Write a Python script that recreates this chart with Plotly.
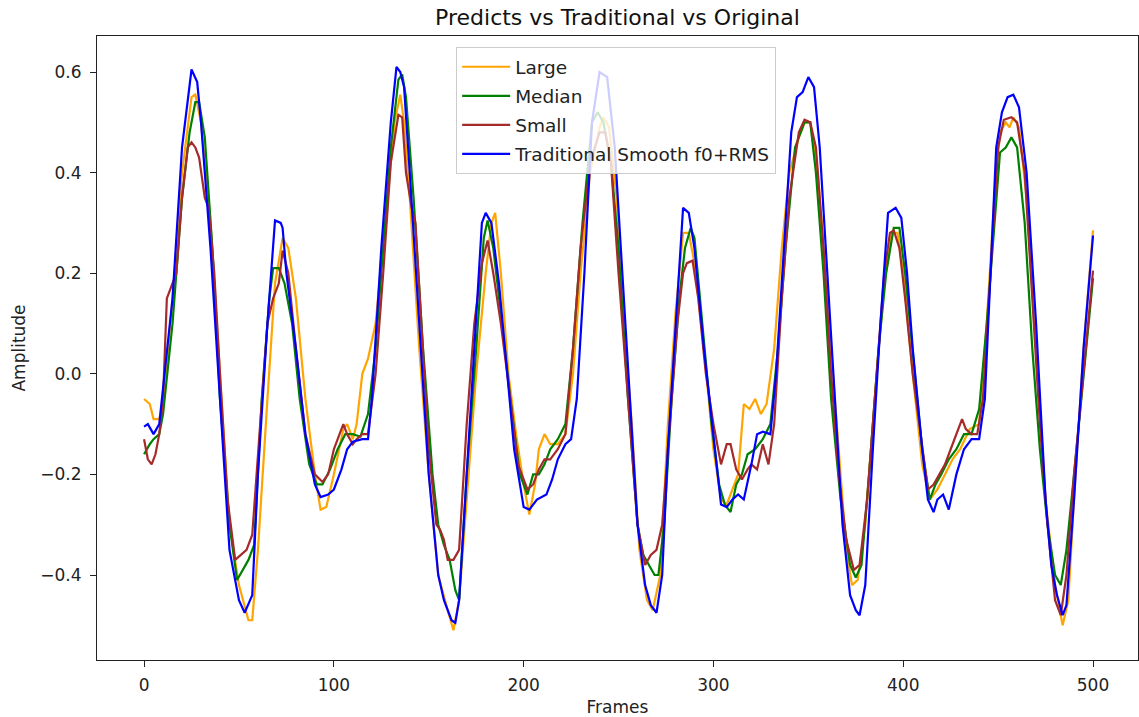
import plotly.graph_objects as go

# ---- data (frame, amplitude) ----
large_x = [0, 3, 5, 8, 10, 15, 20, 25, 27, 30, 35, 40, 45, 50, 55, 57, 60, 65, 69, 73, 76, 80, 85, 90, 93, 96, 100, 105, 107, 110, 112, 115, 118, 122, 127, 132, 135, 137, 140, 145, 150, 155, 160, 163, 166, 170, 175, 180, 183, 185, 188, 192, 196, 200, 203, 206, 208, 211, 214, 218, 222, 226, 230, 235, 240, 242, 245, 249, 253, 257, 261, 265, 268, 272, 276, 280, 284, 287, 290, 295, 300, 304, 307, 310, 313, 316, 319, 322, 325, 328, 332, 336, 340, 345, 348, 351, 355, 360, 365, 370, 373, 376, 380, 385, 390, 394, 397, 400, 405, 410, 414, 418, 422, 426, 430, 435, 440, 444, 448, 451, 454, 456, 458, 461, 465, 470, 475, 480, 484, 487, 490, 495, 500]
large_y = [-0.05, -0.06, -0.09, -0.09, -0.06, 0.15, 0.40, 0.55, 0.555, 0.50, 0.30, 0.00, -0.30, -0.42, -0.49, -0.49, -0.35, -0.05, 0.18, 0.27, 0.25, 0.15, -0.05, -0.20, -0.27, -0.265, -0.20, -0.11, -0.10, -0.13, -0.10, 0.00, 0.03, 0.10, 0.30, 0.50, 0.555, 0.50, 0.35, 0.05, -0.20, -0.40, -0.47, -0.51, -0.45, -0.25, 0.00, 0.20, 0.30, 0.32, 0.20, 0.00, -0.12, -0.22, -0.28, -0.22, -0.15, -0.12, -0.14, -0.14, -0.12, 0.00, 0.20, 0.40, 0.49, 0.51, 0.49, 0.35, 0.10, -0.10, -0.35, -0.45, -0.47, -0.40, -0.10, 0.12, 0.28, 0.28, 0.22, 0.05, -0.15, -0.25, -0.26, -0.23, -0.20, -0.06, -0.07, -0.05, -0.08, -0.06, 0.05, 0.25, 0.40, 0.47, 0.50, 0.50, 0.40, 0.15, -0.10, -0.35, -0.42, -0.41, -0.30, -0.05, 0.18, 0.28, 0.28, 0.20, 0.00, -0.18, -0.25, -0.23, -0.20, -0.17, -0.15, -0.11, -0.10, 0.10, 0.35, 0.48, 0.50, 0.49, 0.51, 0.49, 0.35, 0.05, -0.25, -0.42, -0.50, -0.45, -0.25, 0.05, 0.285]

median_x = [0, 3, 5, 8, 10, 15, 20, 24, 27, 29, 32, 36, 40, 45, 49, 52, 55, 58, 62, 66, 68, 71, 74, 78, 82, 87, 91, 94, 98, 102, 106, 110, 114, 118, 122, 126, 130, 134, 136, 138, 142, 147, 152, 155, 158, 161, 164, 166, 170, 175, 179, 181, 184, 188, 193, 198, 202, 205, 208, 211, 214, 218, 222, 226, 231, 236, 239, 242, 246, 250, 255, 260, 263, 266, 269, 271, 274, 278, 282, 285, 288, 290, 294, 299, 303, 306, 309, 312, 315, 318, 322, 326, 330, 334, 338, 343, 348, 351, 354, 358, 362, 367, 372, 375, 378, 382, 387, 391, 395, 398, 401, 405, 410, 414, 417, 420, 424, 428, 432, 436, 440, 444, 448, 451, 454, 457, 460, 464, 468, 472, 476, 480, 483, 486, 490, 495, 500]
median_y = [-0.16, -0.14, -0.13, -0.12, -0.08, 0.10, 0.35, 0.48, 0.54, 0.54, 0.47, 0.25, -0.05, -0.30, -0.41, -0.39, -0.37, -0.34, -0.05, 0.15, 0.21, 0.21, 0.18, 0.10, -0.05, -0.18, -0.22, -0.22, -0.19, -0.15, -0.12, -0.12, -0.125, -0.08, 0.05, 0.25, 0.45, 0.585, 0.595, 0.55, 0.35, 0.05, -0.20, -0.30, -0.34, -0.37, -0.43, -0.45, -0.20, 0.05, 0.27, 0.305, 0.25, 0.12, -0.05, -0.20, -0.24, -0.20, -0.20, -0.18, -0.15, -0.13, -0.10, 0.05, 0.30, 0.50, 0.52, 0.50, 0.42, 0.25, -0.05, -0.30, -0.36, -0.38, -0.40, -0.40, -0.30, -0.05, 0.15, 0.25, 0.29, 0.27, 0.10, -0.10, -0.22, -0.26, -0.275, -0.22, -0.20, -0.16, -0.15, -0.13, -0.10, 0.05, 0.25, 0.45, 0.50, 0.50, 0.40, 0.20, -0.05, -0.25, -0.38, -0.405, -0.38, -0.20, 0.05, 0.20, 0.29, 0.29, 0.20, 0.05, -0.15, -0.25, -0.22, -0.20, -0.17, -0.15, -0.12, -0.12, -0.07, 0.10, 0.30, 0.44, 0.45, 0.47, 0.45, 0.30, 0.05, -0.15, -0.30, -0.40, -0.42, -0.35, -0.20, 0.00, 0.19]

small_x = [0, 2, 4, 6, 8, 10, 12, 14, 17, 20, 23, 25, 27, 29, 32, 34, 37, 40, 44, 48, 51, 54, 57, 61, 65, 68, 71, 73, 76, 80, 85, 90, 94, 97, 100, 103, 105, 107, 110, 112, 115, 118, 122, 126, 130, 134, 136, 138, 141, 143, 146, 150, 154, 156, 158, 160, 163, 166, 170, 174, 178, 181, 184, 188, 193, 197, 202, 205, 208, 211, 214, 218, 222, 226, 230, 235, 240, 243, 246, 250, 255, 260, 264, 267, 270, 273, 277, 281, 284, 286, 289, 292, 296, 300, 304, 307, 309, 312, 315, 318, 320, 323, 326, 329, 332, 336, 340, 345, 348, 351, 354, 358, 362, 366, 370, 374, 377, 381, 386, 390, 393, 395, 398, 401, 405, 410, 413, 416, 419, 422, 425, 428, 431, 433, 436, 439, 442, 446, 450, 453, 457, 460, 464, 468, 472, 476, 480, 483, 486, 490, 495, 500]
small_y = [-0.13, -0.17, -0.18, -0.16, -0.12, -0.05, 0.15, 0.17, 0.20, 0.35, 0.45, 0.46, 0.45, 0.43, 0.35, 0.33, 0.20, 0.00, -0.25, -0.37, -0.36, -0.35, -0.32, -0.10, 0.10, 0.15, 0.18, 0.245, 0.20, 0.05, -0.12, -0.20, -0.215, -0.20, -0.15, -0.12, -0.10, -0.12, -0.14, -0.13, -0.12, -0.12, 0.00, 0.20, 0.42, 0.515, 0.51, 0.40, 0.33, 0.30, 0.10, -0.15, -0.30, -0.31, -0.33, -0.37, -0.37, -0.35, -0.10, 0.10, 0.22, 0.265, 0.20, 0.10, -0.05, -0.18, -0.23, -0.22, -0.19, -0.17, -0.17, -0.15, -0.12, 0.05, 0.25, 0.42, 0.48, 0.48, 0.42, 0.20, -0.05, -0.30, -0.38, -0.36, -0.35, -0.30, -0.10, 0.10, 0.20, 0.22, 0.225, 0.15, 0.00, -0.10, -0.18, -0.14, -0.14, -0.19, -0.21, -0.19, -0.18, -0.19, -0.14, -0.18, -0.10, 0.15, 0.35, 0.48, 0.505, 0.50, 0.45, 0.25, 0.00, -0.20, -0.33, -0.39, -0.38, -0.25, 0.00, 0.20, 0.28, 0.285, 0.25, 0.15, 0.00, -0.15, -0.23, -0.22, -0.20, -0.18, -0.15, -0.12, -0.09, -0.11, -0.12, -0.12, -0.05, 0.20, 0.45, 0.505, 0.51, 0.50, 0.40, 0.15, -0.10, -0.30, -0.45, -0.48, -0.40, -0.20, 0.00, 0.205]

trad_x = [0, 2, 5, 8, 15, 20, 25, 28, 30, 35, 40, 45, 50, 53, 57, 60, 65, 69, 72, 73, 75, 80, 85, 90, 93, 97, 100, 104, 107, 110, 115, 118, 120, 125, 130, 133, 135, 137, 140, 145, 150, 155, 158, 162, 164, 166, 170, 175, 178, 180, 183, 187, 190, 195, 200, 203, 207, 212, 215, 218, 222, 225, 228, 232, 236, 240, 244, 248, 252, 256, 260, 264, 267, 270, 273, 276, 280, 284, 287, 290, 295, 300, 304, 307, 310, 313, 316, 320, 323, 326, 330, 333, 337, 341, 344, 347, 350, 353, 356, 360, 365, 368, 372, 375, 377, 380, 384, 388, 392, 396, 399, 402, 405, 410, 413, 416, 418, 421, 424, 428, 432, 436, 440, 443, 446, 449, 452, 455, 458, 461, 465, 470, 475, 478, 481, 484, 486, 490, 495, 500]
trad_y = [-0.105, -0.10, -0.12, -0.10, 0.15, 0.45, 0.605, 0.58, 0.50, 0.25, -0.05, -0.35, -0.45, -0.475, -0.44, -0.20, 0.10, 0.305, 0.30, 0.29, 0.20, 0.05, -0.12, -0.22, -0.245, -0.24, -0.23, -0.19, -0.15, -0.135, -0.13, -0.13, -0.05, 0.25, 0.50, 0.61, 0.60, 0.57, 0.40, 0.10, -0.20, -0.40, -0.45, -0.49, -0.495, -0.45, -0.20, 0.10, 0.30, 0.32, 0.30, 0.18, 0.05, -0.15, -0.265, -0.27, -0.25, -0.24, -0.21, -0.17, -0.14, -0.13, -0.05, 0.20, 0.50, 0.60, 0.59, 0.45, 0.20, -0.05, -0.30, -0.42, -0.46, -0.475, -0.40, -0.15, 0.10, 0.33, 0.32, 0.25, 0.05, -0.13, -0.26, -0.265, -0.25, -0.24, -0.25, -0.18, -0.12, -0.115, -0.12, 0.00, 0.25, 0.48, 0.55, 0.56, 0.59, 0.57, 0.45, 0.20, -0.10, -0.30, -0.44, -0.47, -0.48, -0.42, -0.15, 0.10, 0.32, 0.33, 0.31, 0.20, 0.05, -0.15, -0.25, -0.275, -0.25, -0.24, -0.27, -0.20, -0.15, -0.13, -0.13, -0.05, 0.20, 0.45, 0.52, 0.55, 0.555, 0.53, 0.40, 0.10, -0.25, -0.38, -0.44, -0.48, -0.46, -0.25, 0.05, 0.275]

series_names = ["Large", "Median", "Small", "Traditional Smooth f0+RMS"]
series_colors = ["orange", "green", "brown", "blue"]
x_ticks = [0, 100, 200, 300, 400, 500]
y_ticks = [-0.4, -0.2, 0.0, 0.2, 0.4, 0.6]
y_tick_labels = ["\u22120.4", "\u22120.2", "0.0", "0.2", "0.4", "0.6"]

FONT = "DejaVu Sans"

fig = go.Figure()
for i, (name, xs, ys, col) in enumerate(zip(
        series_names,
        [large_x, median_x, small_x, trad_x],
        [large_y, median_y, small_y, trad_y],
        series_colors)):
    fig.add_trace(go.Scatter(x=xs, y=ys, mode="lines", name=name,
                             legendgroup=f"g{i}",
                             line=dict(color=col, width=2.2)))

axis_common = dict(showgrid=False, zeroline=False, showline=True, linecolor="#222",
                   linewidth=1.2, mirror=True, ticks="outside", ticklen=6,
                   tickcolor="#222", tickfont=dict(family=FONT, size=17, color="#222"))

fig.update_layout(
    width=1139, height=717,
    margin=dict(l=97, r=1, t=36, b=57),
    paper_bgcolor="white", plot_bgcolor="white",
    font=dict(family=FONT, color="#222"),
    title=dict(text="Predicts vs Traditional vs Original", x=0.5, xref="paper",
               xanchor="center", y=1 - 17 / 717, yanchor="middle",
               font=dict(family=FONT, size=22, color="#111")),
    xaxis=dict(range=[-24.8, 523.7], tickvals=x_ticks, ticklabelstandoff=3,
               title=dict(text="Frames", font=dict(family=FONT, size=17), standoff=8),
               **axis_common),
    yaxis=dict(range=[-0.569, 0.6716], tickvals=y_ticks, ticktext=y_tick_labels,
               ticklabelstandoff=5,
               title=dict(text="Amplitude", font=dict(family=FONT, size=17), standoff=10),
               **axis_common),
    legend=dict(x=0.345, y=0.982, xanchor="left", yanchor="top",
                bgcolor="rgba(255,255,255,0.8)", bordercolor="#cccccc", borderwidth=1,
                font=dict(family=FONT, size=18.5, color="#222"),
                itemwidth=48, tracegroupgap=2),
    showlegend=True,
)

fig.write_html("out.html")
